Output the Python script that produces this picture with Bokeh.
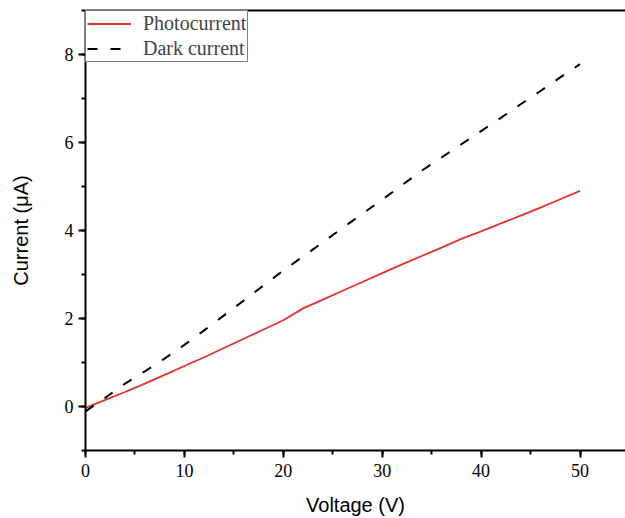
from bokeh.plotting import figure
from bokeh.models import Range1d, SingleIntervalTicker, FixedTicker, LinearAxis, Legend, LegendItem
from bokeh.embed import file_html
from bokeh.resources import INLINE

voltage = [0, 2, 4, 6, 8, 10, 12, 14, 16, 18, 20, 22, 24, 26, 28, 30, 32, 34, 36, 38, 40, 42, 44, 46, 48, 50]
photocurrent = [-0.03, 0.15, 0.33, 0.52, 0.72, 0.92, 1.12, 1.33, 1.54, 1.75, 1.96, 2.23, 2.43, 2.63, 2.83,
                3.03, 3.23, 3.42, 3.61, 3.81, 3.98, 4.16, 4.34, 4.52, 4.71, 4.90]
dark_current = [-0.11, 0.20, 0.52, 0.80, 1.09, 1.40, 1.73, 2.07, 2.41, 2.75, 3.09, 3.41, 3.73, 4.06, 4.38,
                4.70, 5.03, 5.36, 5.66, 5.96, 6.26, 6.56, 6.87, 7.17, 7.48, 7.78]

p = figure(width=625, height=518, output_backend="svg", toolbar_location=None,
           x_range=Range1d(0, 54.6), y_range=Range1d(-1, 9),
           min_border_left=85, min_border_right=0, min_border_top=10, min_border_bottom=67)
p.outline_line_color = None
p.grid.visible = False
p.background_fill_color = "white"

r1 = p.line(voltage, photocurrent, line_color="#e8312a", line_width=1.8)
r2 = p.line(voltage, dark_current, line_color="black", line_width=2, line_dash="10 13")

serif = "Liberation Serif"
sans = "Liberation Sans"

p.xaxis.ticker = SingleIntervalTicker(interval=10, num_minor_ticks=2)
p.yaxis.ticker = SingleIntervalTicker(interval=2, num_minor_ticks=2)
for ax in (p.xaxis, p.yaxis):
    ax.axis_line_width = 2
    ax.axis_line_color = "black"
    ax.major_tick_line_width = 2
    ax.minor_tick_line_width = 2
    ax.major_tick_in = 0
    ax.major_tick_out = 7
    ax.minor_tick_in = 0
    ax.minor_tick_out = 4
    ax.major_label_text_font = serif
    ax.major_label_text_font_size = "18px"
    ax.major_label_text_color = "black"
    ax.axis_label_text_font = sans
    ax.axis_label_text_font_size = "20px"
    ax.axis_label_text_font_style = "normal"
    ax.axis_label_text_color = "black"
p.xaxis.axis_label = "Voltage (V)"
p.yaxis.axis_label = "Current (\u03bcA)"
p.xaxis.major_label_standoff = 6
p.yaxis.major_label_standoff = 5
p.xaxis.axis_label_standoff = 14
p.yaxis.axis_label_standoff = 30

top = LinearAxis(axis_line_width=2, axis_line_color="black",
                 major_tick_line_color=None, minor_tick_line_color=None,
                 ticker=FixedTicker(ticks=[]))
p.add_layout(top, "above")

legend = Legend(items=[LegendItem(label="Photocurrent", renderers=[r1]),
                       LegendItem(label="Dark current", renderers=[r2])],
                location="top_left", margin=0, padding=1, spacing=2,
                border_line_color="black", border_line_width=1,
                label_text_font=serif, label_text_font_size="20px",
                glyph_width=44, glyph_height=23, label_height=23,
                label_standoff=12, background_fill_alpha=1)
p.add_layout(legend)

open("out.html", "w").write(file_html(p, INLINE))
